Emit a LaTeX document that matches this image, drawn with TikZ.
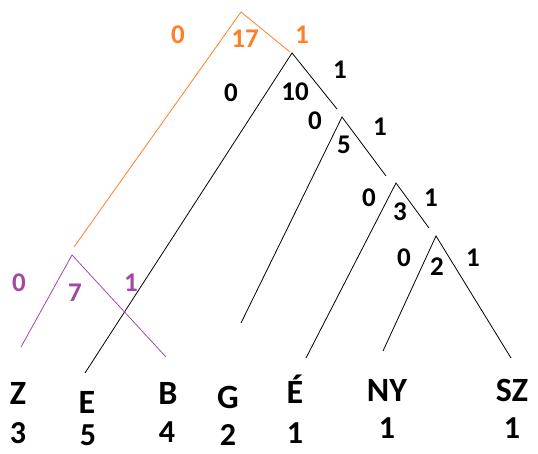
\documentclass[tikz,border=0pt]{standalone}
\usepackage{fontspec}
\setmainfont{Carlito}
\definecolor{paintorange}{RGB}{255,127,39}
\definecolor{paintpurple}{RGB}{163,73,164}
\tikzset{
  edge/.style={draw=black, line width=0.8pt},
  bit/.style={font=\fontsize{27}{27}\selectfont\bfseries, inner sep=0pt},
  weight/.style={font=\fontsize{27}{27}\selectfont\bfseries, inner sep=0pt},
  letter/.style={font=\fontsize{34}{34}\selectfont\bfseries, inner sep=0pt},
  count/.style={font=\fontsize{32}{32}\selectfont\bfseries, inner sep=0pt},
}

\begin{document}
\begin{tikzpicture}[x=1pt, y=-1pt]
  \useasboundingbox (0,0) rectangle (538,453);

  % Nodes
  \coordinate (n17) at (241,12);
  \coordinate (n10) at (292,53);
  \coordinate (n5) at (342,117);
  \coordinate (n3) at (396,183);
  \coordinate (n2) at (436,236);
  \coordinate (n7) at (72,255);

  % Leaf ends
  \coordinate (o0) at (74,247);
  \coordinate (o1) at (290,52);
  \coordinate (t0) at (85,373);
  \coordinate (t1) at (337,109);
  \coordinate (f0) at (241,323);
  \coordinate (f1) at (386,176);
  \coordinate (h0) at (306,358);
  \coordinate (h1) at (429,228);
  \coordinate (w0) at (383,351);
  \coordinate (w1) at (511,358);
  \coordinate (p0) at (21,347);
  \coordinate (p1) at (166,357);

  % Edges
  \draw[edge, draw=paintorange] (o0) -- (n17) -- (o1);
  \draw[edge] (t0) -- (n10) -- (t1);
  \draw[edge] (f0) -- (n5) -- (f1);
  \draw[edge] (h0) -- (n3) -- (h1);
  \draw[edge] (w0) -- (n2) -- (w1);
  \draw[edge, draw=paintpurple] (p0) -- (n7) -- (p1);

  % Weights and bits
  \node[bit, text=paintorange] (b17l) at (178,35) {0};
  \node[weight, text=paintorange] (w17) at (245,39) {17};
  \node[bit, text=paintorange] (b17r) at (302,35) {1};

  \node[bit] (b10l) at (231,93) {0};
  \node[weight] (w10) at (295,92) {10};
  \node[bit] (b10r) at (340,70) {1};

  \node[bit] (b5l) at (315,121) {0};
  \node[weight] (w5) at (344,145) {5};
  \node[bit] (b5r) at (380,127) {1};

  \node[bit] (b3l) at (369,198) {0};
  \node[weight] (w3) at (400,212) {3};
  \node[bit] (b3r) at (431,198) {1};

  \node[bit] (b2l) at (404,258) {0};
  \node[weight] (w2) at (437,267) {2};
  \node[bit] (b2r) at (473,258) {1};

  \node[bit, text=paintpurple] (b7l) at (19,283) {0};
  \node[weight, text=paintpurple] (w7) at (75,293) {7};
  \node[bit, text=paintpurple] (b7r) at (131,283) {1};

  % Leaves
  \node[letter] (Z) at (18,393) {Z};
  \node[count] (cZ) at (18,433) {3};
  \node[letter] (E) at (87,402) {E};
  \node[count] (cE) at (88,435) {5};
  \node[letter] (B) at (168,393) {B};
  \node[count] (cB) at (167,432) {4};
  \node[letter] (G) at (228,397) {G};
  \node[count] (cG) at (228,435) {2};
  \node[letter, anchor=base] (Ea) at (295,403) {É};
  \node[count] (cEa) at (295,433) {1};
  \node[letter] (NY) at (387,390) {NY};
  \node[count] (cNY) at (387,428) {1};
  \node[letter] (SZ) at (512,390) {SZ};
  \node[count] (cSZ) at (512,428) {1};

\end{tikzpicture}
\end{document}
